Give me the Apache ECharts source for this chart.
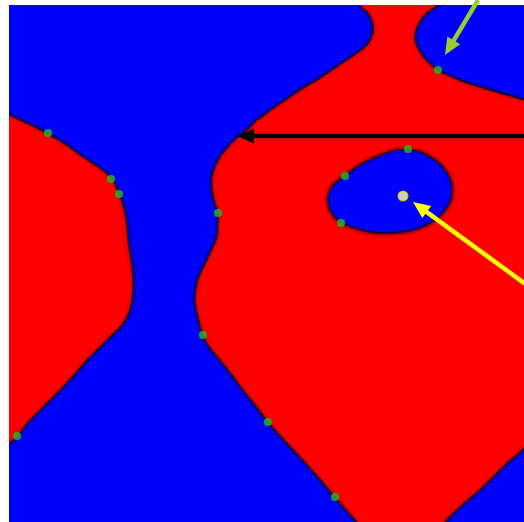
<!DOCTYPE html>
<html>
<head>
<meta charset="utf-8">
<script src="https://cdn.jsdelivr.net/npm/echarts@6/dist/echarts.min.js"></script>
<style>
  html, body { margin: 0; padding: 0; background: #ffffff; }
  #chart { width: 524px; height: 522px; }
</style>
</head>
<body>
<div id="chart"></div>
<script>
// Decision-region map: blue background class, red regions, blue island.
// Coordinates are in plot units (x: 0..515, y: 0..517, y grows downward).

// Boundary of the large central red region (neck at the top, open to the right and bottom)
const mainRegion = [
  [349, -15], [351, 0], [358, 7], [363, 15], [364, 28], [358, 40], [348, 48], [338, 55],
  [323, 65], [308, 75], [294, 83], [281, 92], [269, 100], [258, 108], [247, 116], [238, 125],
  [228, 133], [219, 142], [211, 152], [206, 162], [203, 172], [203, 182], [205, 195], [209, 208],
  [209, 220], [208, 232], [203, 244], [198, 255], [192, 267], [188, 278], [186, 295], [189, 312],
  [194, 330], [201, 343], [211, 355], [223, 370], [234, 385], [247, 401], [259, 417], [275, 435],
  [291, 452], [309, 472], [326, 492], [338, 506], [348, 517], [356, 527],
  [432, 527], [436, 517], [451, 502], [466, 489], [481, 475], [496, 460], [511, 447], [515, 443],
  [530, 432], [530, 100], [515, 95], [491, 88], [471, 82], [458, 78], [443, 72], [429, 65],
  [419, 57], [411, 47], [406, 35], [407, 25], [412, 15], [419, 7], [428, 0], [431, -15]
];

// Blue island inside the central red region
const islandRegion = [
  [399, 145], [411, 147], [421, 152], [431, 159], [438, 168], [442, 177], [443, 185], [442, 194],
  [438, 202], [431, 211], [421, 218], [408, 224], [394, 227], [378, 228], [361, 227], [346, 223],
  [333, 218], [324, 210], [320, 202], [319, 192], [323, 182], [329, 176], [336, 171], [348, 162],
  [361, 155], [378, 148], [389, 145]
];

// Red region on the left edge
const leftRegion = [
  [-15, 107], [0, 110], [11, 115], [26, 122], [39, 129], [56, 139], [74, 152], [89, 162],
  [103, 174], [110, 189], [114, 200], [116, 208], [118, 222], [119, 235], [121, 249], [123, 262],
  [124, 275], [124, 285], [123, 295], [120, 307], [113, 320], [101, 332], [90, 343], [78, 355],
  [65, 370], [51, 385], [37, 399], [24, 412], [16, 421], [8, 432], [0, 438], [-15, 448]
];

// Sample points lying on the decision boundary
const boundaryPoints = [
  [39, 128], [102, 174], [110, 189], [209, 208], [194, 330], [259, 417], [326, 492],
  [8, 431], [399, 144], [336, 171], [332, 218], [429, 65]
];

// Highlighted query point
const queryPoint = [[394, 191]];

// Annotation arrows: tail -> head
const arrowTails = [[530, 131], [469, -5], [526, 286]];
const arrowHeads = [[228, 131], [436, 50], [404, 197]];
const arrowColors = ['#000000', '#9acd32', '#ffff00'];

const RED = '#ff0000';
const BLUE = '#0000ff';

function regionRenderer(points, fill) {
  return function (params, api) {
    const pts = points.map(function (p) { return api.coord(p); });
    return {
      type: 'polygon',
      shape: { points: pts, smooth: 0.35 },
      style: {
        fill: fill,
        stroke: 'rgba(0,0,0,0.6)',
        lineWidth: 1.5,
        shadowBlur: 4,
        shadowColor: 'rgba(0,0,0,0.9)'
      }
    };
  };
}

function arrowRenderer(params, api) {
  const i = params.dataIndex;
  const a = api.coord(arrowTails[i]);
  const b = api.coord(arrowHeads[i]);
  const dx = b[0] - a[0], dy = b[1] - a[1];
  const len = Math.sqrt(dx * dx + dy * dy);
  const ux = dx / len, uy = dy / len;
  const nx = -uy, ny = ux;
  const headLen = 17, headHalf = 7.5;
  const bx = b[0] - ux * headLen, by = b[1] - uy * headLen;
  const color = arrowColors[i];
  return {
    type: 'group',
    children: [
      {
        type: 'line',
        shape: { x1: a[0], y1: a[1], x2: bx + ux * 2, y2: by + uy * 2 },
        style: { stroke: color, lineWidth: 4.5 }
      },
      {
        type: 'polygon',
        shape: { points: [[b[0], b[1]], [bx + nx * headHalf, by + ny * headHalf], [bx - nx * headHalf, by - ny * headHalf]] },
        style: { fill: color }
      }
    ]
  };
}

const chart = echarts.init(document.getElementById('chart'), null, { renderer: 'canvas' });

chart.setOption({
  animation: false,
  backgroundColor: '#ffffff',
  grid: {
    left: 9, top: 5, right: 0, bottom: 0,
    show: true, backgroundColor: BLUE, borderWidth: 0
  },
  xAxis: { type: 'value', min: 0, max: 515, show: false },
  yAxis: { type: 'value', min: 0, max: 517, inverse: true, show: false },
  series: [
    { type: 'custom', clip: true, data: [[0, 0]], renderItem: regionRenderer(mainRegion, RED), z: 1 },
    { type: 'custom', clip: true, data: [[0, 0]], renderItem: regionRenderer(leftRegion, RED), z: 1 },
    { type: 'custom', clip: true, data: [[0, 0]], renderItem: regionRenderer(islandRegion, BLUE), z: 2 },
    {
      type: 'scatter', data: boundaryPoints, symbolSize: 8, z: 5,
      itemStyle: { color: '#2cb82c', borderColor: '#1f941f', borderWidth: 0.5 }
    },
    {
      type: 'scatter', data: queryPoint, symbolSize: 9, z: 5,
      itemStyle: { color: '#ffffc8', borderColor: '#e6e600', borderWidth: 2 }
    },
    {
      type: 'custom', clip: false, z: 6,
      data: arrowHeads.map(function (p, i) { return [i, i]; }),
      renderItem: arrowRenderer
    }
  ]
});
</script>
</body>
</html>
